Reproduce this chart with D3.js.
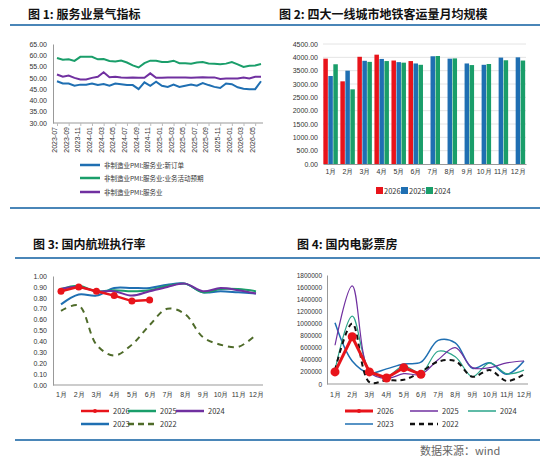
<!DOCTYPE html><html><head><meta charset="utf-8">
<script src="https://cdn.jsdelivr.net/npm/d3@7"></script>
<style>body{margin:0;background:#fff}svg{font-family:"Noto Sans CJK SC","Noto Sans",sans-serif}</style></head><body>
<svg id="c" width="550" height="462"></svg>
<script>
// ---- data ----
const pmiMonths=[];for(let y=2023,m=7;pmiMonths.length<36;){pmiMonths.push(y+"-"+String(m).padStart(2,"0"));m++;if(m>12){m=1;y++;}}
const pmiNewOrders=[48.5,47.5,47.5,46.5,47,47,47.5,46.8,47.3,46.5,47.5,47.2,46.8,46.8,45,48,46.5,48.3,46.5,46,47,46,46.5,47,46.5,47.7,46.8,46,45.5,47.5,47.2,45.8,45.2,45,45,48.5];
const pmiExpect=[58.8,58,58.2,57.5,59.3,59.3,59.3,58.2,58.3,57.5,57.2,57.7,56.8,55.5,54.6,56.5,57.6,57.6,57,57,57.6,56.5,56.5,56.3,56.8,57,56.4,56.3,56,56.3,57,56,54.8,55.4,55.5,56.1];
const pmiServices=[51.5,50.5,51,50,49.3,49.3,50,50.5,52.5,50.3,50.5,50.2,50,50.2,50,50,52,50,50,50.2,50.2,50.2,50.2,50,50.2,50.3,50.2,50.2,49.5,49.7,49.7,49.7,50.2,49.7,50.5,50.5];
const months=["1月","2月","3月","4月","5月","6月","7月","8月","9月","10月","11月","12月"];
const metro2026=[3950,3100,4020,4100,3880,3860];
const metro2025=[3300,3500,3870,3940,3820,3770,4040,3950,3770,3720,3990,4000];
const metro2024=[3740,2800,3830,3860,3800,3720,4050,3960,3710,3750,3890,3880];
const flt2026=[.86,.90,.86,.82,.77,.78];
const flt2025=[.88,.91,.86,.87,.86,.87,.91,.93,.85,.88,.88,.86];
const flt2024=[.88,.90,.86,.86,.82,.86,.90,.93,.86,.89,.87,.84];
const flt2023=[.74,.83,.82,.89,.89,.89,.92,.93,.85,.86,.85,.84];
const flt2022=[.68,.73,.37,.27,.37,.55,.70,.65,.44,.37,.35,.46];
const box2026=[200000,780000,200000,100000,270000,160000];
const box2025=[640000,1620000,200000,90000,170000,160000,400000,600000,270000,270000,350000,380000];
const box2024=[230000,1120000,230000,120000,300000,180000,540000,450000,120000,350000,170000,230000];
const box2023=[1010000,380000,180000,250000,330000,360000,720000,680000,260000,350000,160000,380000];
const box2022=[230000,1000000,30000,60000,70000,200000,370000,380000,120000,230000,50000,160000];

const svg=d3.select("#c");
const RED="#e8141b",BLUE="#1f6fb2",GREEN="#1a9e6a",PURPLE="#7030a0",TEAL="#2aa58a",OLIVE="#4f6b2a";
function title(x,y,t){svg.append("text").attr("x",x).attr("y",y).attr("font-size",12).attr("font-weight","bold").attr("fill","#111").text(t);}
function rule(x1,x2,y){svg.append("line").attr("x1",x1).attr("x2",x2).attr("y1",y).attr("y2",y).attr("stroke","#4a86b8").attr("stroke-width",2);}
function styleAxis(g){g.selectAll("path,line").attr("stroke","#bbb");g.selectAll("text").attr("fill","#333").attr("font-size",7);}
function legend(items,y){items.forEach(it=>{const g=svg.append("g");
 g.append("line").attr("x1",it.x).attr("x2",it.x+28).attr("y1",y).attr("y2",y).attr("stroke",it.c).attr("stroke-width",it.w||2.5).attr("stroke-dasharray",it.d||null);
 if(it.m)g.append("circle").attr("cx",it.x+14).attr("cy",y).attr("r",2).attr("fill",it.c);
 g.append("text").attr("x",it.x+32).attr("y",y+3).attr("font-size",7.5).attr("fill","#333").text(it.t);});}

// ---- Panel 1 ----
title(28,19,"图 1:  服务业景气指标");rule(10,275,25);rule(10,275,208);
{const x=d3.scalePoint().domain(pmiMonths).range([57,261]),y=d3.scaleLinear().domain([30,65]).range([123,44]);
 const ay=svg.append("g").attr("transform","translate(53,0)").call(d3.axisLeft(y).tickValues(d3.range(30,66,5)).tickFormat(d3.format(".2f")).tickSize(0).tickPadding(6));styleAxis(ay);ay.select(".domain").attr("stroke","#999");
 const ax=svg.append("g").attr("transform","translate(0,123)").call(d3.axisBottom(x).tickValues(pmiMonths.filter((d,i)=>i%2==0)).tickSize(3));styleAxis(ax);
 ax.select(".domain").attr("d","M53,0H263").attr("stroke","#999");
 ax.selectAll("text").attr("transform","rotate(-90)").attr("text-anchor","end").attr("x",-4).attr("y",-3).attr("dy","0.35em");
 const ln=d3.line().x((d,i)=>x(pmiMonths[i])).y(d=>y(d));
 [[pmiNewOrders,BLUE],[pmiExpect,GREEN],[pmiServices,PURPLE]].forEach(([s,c])=>svg.append("path").attr("d",ln(s)).attr("fill","none").attr("stroke",c).attr("stroke-width",2));
 [["非制造业PMI:服务业:新订单",BLUE,165],["非制造业PMI:服务业:业务活动预期",GREEN,178],["非制造业PMI:服务业",PURPLE,192]].forEach(([t,c,yy])=>{
  svg.append("line").attr("x1",80).attr("x2",100).attr("y1",yy).attr("y2",yy).attr("stroke",c).attr("stroke-width",2.5);
  svg.append("text").attr("x",104).attr("y",yy+3).attr("font-size",6.5).attr("fill","#333").text(t);});}

// ---- Panel 2 ----
title(279,19,"图 2:  四大一线城市地铁客运量月均规模");rule(275,540,25);rule(275,540,208);
{const x=d3.scaleBand().domain(months).range([323,526]).paddingInner(0.12).paddingOuter(0.02),y=d3.scaleLinear().domain([0,4500]).range([164,44]);
 svg.append("g").selectAll("line").data(d3.range(500,4501,500)).join("line").attr("x1",323).attr("x2",526).attr("y1",d=>y(d)).attr("y2",d=>y(d)).attr("stroke","#e4e4e4");
 const ay=svg.append("g").attr("transform","translate(323,0)").call(d3.axisLeft(y).tickValues(d3.range(0,4501,500)).tickFormat(d3.format(".2f")).tickSize(0).tickPadding(5));styleAxis(ay);ay.select(".domain").remove();
 const ax=svg.append("g").attr("transform","translate(0,164)").call(d3.axisBottom(x).tickSize(0).tickPadding(5));styleAxis(ax);ax.select(".domain").attr("stroke","#999");
 const bw=x.bandwidth()/3;
 [[metro2026,RED],[metro2025,BLUE],[metro2024,GREEN]].forEach(([s,c],k)=>svg.append("g").selectAll("rect").data(s).join("rect")
  .attr("x",(d,i)=>x(months[i])+k*bw).attr("width",bw*0.9).attr("y",d=>y(d)).attr("height",d=>164-y(d)).attr("fill",c));
 [["2026",RED,376],["2025",BLUE,401],["2024",GREEN,426]].forEach(([t,c,xx])=>{svg.append("rect").attr("x",xx).attr("y",187).attr("width",7).attr("height",7).attr("fill",c);
  svg.append("text").attr("x",xx+8).attr("y",194).attr("font-size",7.5).attr("fill","#333").text(t);});}

// ---- Panel 3 ----
title(33,249,"图 3:  国内航班执行率");rule(15,275,258);rule(15,275,440);
{const x=d3.scalePoint().domain(months).range([61,256]),y=d3.scaleLinear().domain([0,1]).range([385,276]);
 const ay=svg.append("g").attr("transform","translate(53,0)").call(d3.axisLeft(y).tickValues(d3.range(0,1.01,0.1)).tickFormat(d3.format(".2f")).tickSize(0).tickPadding(6));styleAxis(ay);ay.select(".domain").attr("stroke","#999");
 const ax=svg.append("g").attr("transform","translate(0,385)").call(d3.axisBottom(x).tickSize(0).tickPadding(7));styleAxis(ax);ax.select(".domain").attr("d","M53,0H263").attr("stroke","#999");
 const sm=d3.line().x((d,i)=>x(months[i])).y(d=>y(d)).curve(d3.curveCatmullRom.alpha(0.5));
 [[flt2022,OLIVE,"6,5"],[flt2023,BLUE],[flt2025,GREEN],[flt2024,PURPLE]].forEach(([s,c,da])=>svg.append("path").attr("d",sm(s)).attr("fill","none").attr("stroke",c).attr("stroke-width",2).attr("stroke-dasharray",da||null));
 svg.append("path").attr("d",d3.line().x((d,i)=>x(months[i])).y(d=>y(d))(flt2026)).attr("fill","none").attr("stroke",RED).attr("stroke-width",2.5);
 svg.append("g").selectAll("circle").data(flt2026).join("circle").attr("cx",(d,i)=>x(months[i])).attr("cy",d=>y(d)).attr("r",3.5).attr("fill",RED);
 legend([{t:"2026",c:RED,x:81,m:1},{t:"2025",c:GREEN,x:128},{t:"2024",c:PURPLE,x:176}],411);
 legend([{t:"2023",c:BLUE,x:81},{t:"2022",c:OLIVE,x:128,d:"6,4"}],424);}

// ---- Panel 4 ----
title(297,249,"图 4:  国内电影票房");rule(275,540,258);rule(275,540,440);
{const x=d3.scalePoint().domain(months).range([335,524]),y=d3.scaleLinear().domain([0,1800000]).range([384,275]);
 const ay=svg.append("g").attr("transform","translate(327,0)").call(d3.axisLeft(y).tickValues(d3.range(0,1800001,200000)).tickFormat(d3.format("d")).tickSize(0).tickPadding(5));styleAxis(ay);ay.selectAll("text").attr("font-size",6.5);ay.select(".domain").attr("stroke","#999");
 const ax=svg.append("g").attr("transform","translate(0,384)").call(d3.axisBottom(x).tickSize(0).tickPadding(8));styleAxis(ax);ax.select(".domain").attr("d","M327,0H528").attr("stroke","#999");
 const sm=d3.line().x((d,i)=>x(months[i])).y(d=>y(Math.max(d,0))).curve(d3.curveCatmullRom.alpha(0.5));
 [[box2023,BLUE,1.5],[box2024,TEAL,1.2],[box2025,PURPLE,1.2],[box2022,"#111",2,"5,4"]].forEach(([s,c,w,da])=>svg.append("path").attr("d",sm(s)).attr("fill","none").attr("stroke",c).attr("stroke-width",w).attr("stroke-dasharray",da||null));
 svg.append("path").attr("d",d3.line().x((d,i)=>x(months[i])).y(d=>y(d))(box2026)).attr("fill","none").attr("stroke",RED).attr("stroke-width",3);
 svg.append("g").selectAll("circle").data(box2026).join("circle").attr("cx",(d,i)=>x(months[i])).attr("cy",d=>y(d)).attr("r",4.5).attr("fill",RED);
 legend([{t:"2026",c:RED,x:345,m:1,w:3},{t:"2025",c:PURPLE,x:410,w:1.5},{t:"2024",c:TEAL,x:468,w:1.5}],411);
 legend([{t:"2023",c:BLUE,x:345,w:1.5},{t:"2022",c:"#111",x:410,d:"5,4"}],424);}
svg.append("text").attr("x",420).attr("y",455).attr("font-size",11).attr("fill","#666").text("数据来源：wind");
</script></body></html>
